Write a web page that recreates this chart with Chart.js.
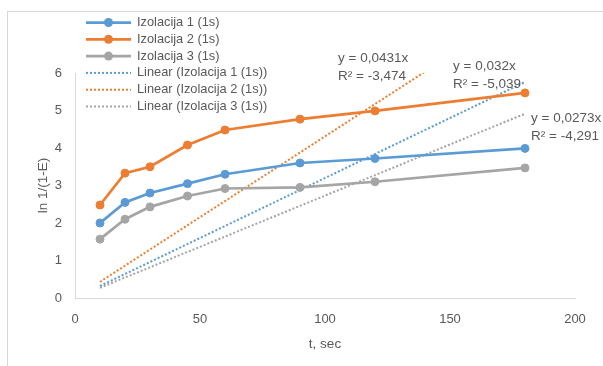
<!DOCTYPE html>
<html>
<head>
<meta charset="utf-8">
<script src="https://cdn.jsdelivr.net/npm/chart.js@4/dist/chart.umd.min.js"></script>
<style>
html,body{margin:0;padding:0;background:#fff;}
#wrap{position:relative;width:603px;height:366px;}
canvas{display:block;}
</style>
</head>
<body>
<div id="wrap"><canvas id="c" width="603" height="366"></canvas></div>
<script>
// ---- data ----
const times = [10, 20, 30, 45, 60, 90, 120, 180];
const izolacija1 = [2.00, 2.55, 2.80, 3.05, 3.30, 3.60, 3.72, 3.99];
const izolacija2 = [2.48, 3.33, 3.50, 4.08, 4.48, 4.77, 4.99, 5.47];
const izolacija3 = [1.57, 2.10, 2.43, 2.72, 2.92, 2.95, 3.10, 3.47];
const trendX = [10, 180];
const trend1 = [0.32, 5.76];
const trend2 = [0.431, 7.758];
const trend3 = [0.273, 4.914];
const seriesNames = ['Izolacija 1 (1s)', 'Izolacija 2 (1s)', 'Izolacija 3 (1s)'];
const trendNames = ['Linear (Izolacija 1 (1s))', 'Linear (Izolacija 2 (1s))', 'Linear (Izolacija 3 (1s))'];
const equations = [
  ['y = 0,032x', 'R² = -5,039'],
  ['y = 0,0431x', 'R² = -3,474'],
  ['y = 0,0273x', 'R² = -4,291']
];
const xTicks = [0, 50, 100, 150, 200];
const yTicks = [0, 1, 2, 3, 4, 5, 6];
const xTitle = 't, sec';
const yTitle = 'ln 1/(1-E)';

// ---- styles ----
const colors = ['#5B9BD5', '#ED7D31', '#A5A5A5'];
const textColor = '#595959';
const FONT = '"Liberation Sans", Arial, sans-serif';

const pts = (xs, ys) => xs.map((x, i) => ({x: x, y: ys[i]}));

const seriesData = [izolacija1, izolacija2, izolacija3];
const trendData = [trend1, trend2, trend3];

const datasets = [];
seriesData.forEach((ys, i) => {
  datasets.push({
    label: seriesNames[i],
    data: pts(times, ys),
    borderColor: colors[i],
    backgroundColor: colors[i],
    borderWidth: 2.75,
    pointRadius: 4,
    pointBorderWidth: 1,
    pointBackgroundColor: colors[i],
    pointBorderColor: colors[i],
    tension: 0,
    order: 1
  });
});
trendData.forEach((ys, i) => {
  datasets.push({
    label: trendNames[i],
    data: pts(trendX, ys),
    borderColor: colors[i],
    backgroundColor: colors[i],
    borderWidth: 2,
    borderDash: [2, 2],
    pointRadius: 0,
    tension: 0,
    order: 2
  });
});

// legend & annotations & frame plugin
const extras = {
  id: 'extras',
  beforeDraw(chart) {
    const ctx = chart.ctx;
    ctx.save();
    ctx.strokeStyle = '#d9d9d9';
    ctx.lineWidth = 1;
    ctx.strokeRect(7.5, 11.5, 800, 500);
    ctx.restore();
  },
  afterDraw(chart) {
    const ctx = chart.ctx;
    ctx.save();
    // legend
    const names = seriesNames.concat(trendNames);
    names.forEach((name, i) => {
      const y = 22.5 + i * 16.8;
      const c = colors[i % 3];
      ctx.strokeStyle = c;
      if (i < 3) {
        ctx.setLineDash([]);
        ctx.lineWidth = 2.75;
        ctx.beginPath(); ctx.moveTo(86, y); ctx.lineTo(131, y); ctx.stroke();
        ctx.fillStyle = c;
        ctx.beginPath(); ctx.arc(108.5, y, 4.5, 0, Math.PI * 2); ctx.fill();
      } else {
        ctx.setLineDash([2, 2]);
        ctx.lineWidth = 2;
        ctx.beginPath(); ctx.moveTo(86, y); ctx.lineTo(131, y); ctx.stroke();
      }
      ctx.setLineDash([]);
      ctx.fillStyle = textColor;
      ctx.font = '12.8px ' + FONT;
      ctx.textBaseline = 'middle';
      ctx.textAlign = 'left';
      ctx.fillText(name, 137, y);
    });
    // trendline equations
    const pos = [[453, 66], [338, 58], [531, 118]];
    ctx.font = '13.5px ' + FONT;
    ctx.fillStyle = textColor;
    equations.forEach((lines, i) => {
      ctx.fillText(lines[0], pos[i][0], pos[i][1]);
      ctx.fillText(lines[1], pos[i][0], pos[i][1] + 18.5);
    });
    ctx.restore();
  }
};

new Chart(document.getElementById('c'), {
  type: 'line',
  data: { datasets: datasets },
  plugins: [extras],
  options: {
    responsive: false,
    animation: false,
    layout: { padding: { left: 0, top: 73, right: 28, bottom: 0 } },
    plugins: { legend: { display: false }, tooltip: { enabled: false } },
    scales: {
      x: {
        type: 'linear',
        min: 0, max: 200,
        afterFit(s) { s.height = 68; },
        afterBuildTicks(s) { s.ticks = xTicks.map(v => ({value: v})); },
        grid: { display: false, drawTicks: false },
        border: { display: true, color: '#d9d9d9', width: 1 },
        ticks: { color: textColor, font: { family: FONT, size: 13 }, padding: 14, maxRotation: 0 },
        title: { display: true, text: xTitle, color: textColor, font: { family: FONT, size: 13.5 }, padding: { top: 0, bottom: 14 } }
      },
      y: {
        type: 'linear',
        min: 0, max: 6,
        afterFit(s) { s.width = 75; },
        afterBuildTicks(s) { s.ticks = yTicks.map(v => ({value: v})); },
        grid: { display: false, drawTicks: false },
        border: { display: true, color: '#d9d9d9', width: 1 },
        ticks: { color: textColor, font: { family: FONT, size: 13 }, padding: 13 },
        title: { display: true, text: yTitle, color: textColor, font: { family: FONT, size: 13.5 }, padding: { top: 35, bottom: 0 } }
      }
    }
  }
});
</script>
</body>
</html>
